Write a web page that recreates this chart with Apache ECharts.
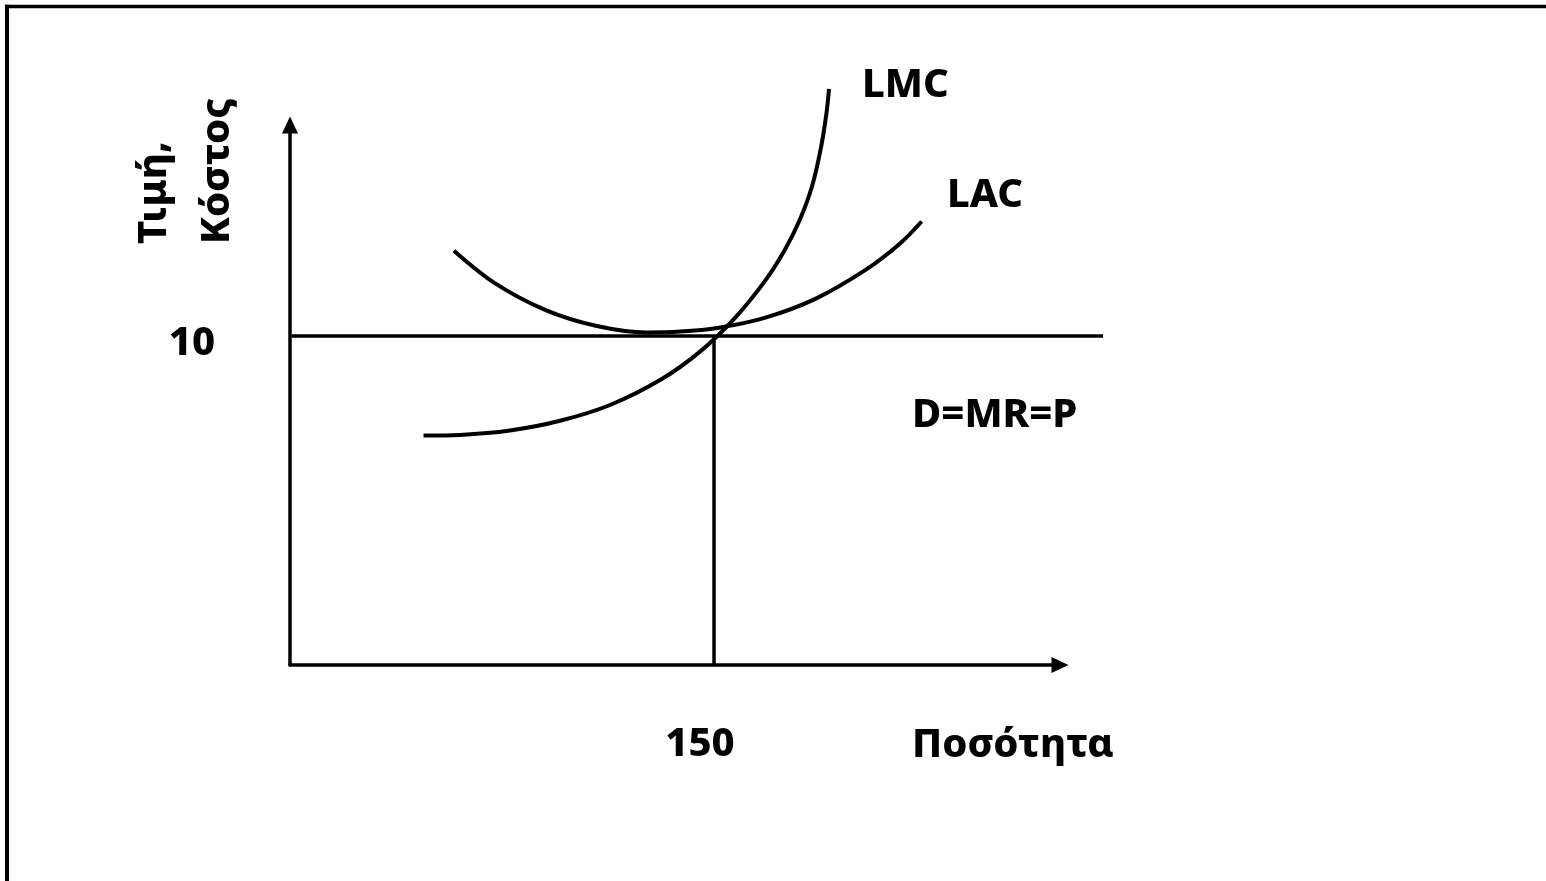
<!DOCTYPE html>
<html>
<head>
<meta charset="utf-8">
<script src="https://cdn.jsdelivr.net/npm/echarts@6/dist/echarts.min.js"></script>
<style>
html,body{margin:0;padding:0;background:#fff;}
#chart{width:1546px;height:881px;}
</style>
</head>
<body>
<div id="chart"></div>
<script>
// Quantity / cost values
const lmcQ    = [47.23, 60.14, 77.83, 95.52, 113.21, 130.90, 145.05, 157.43, 168.04, 175.12, 180.42, 184.67, 187.85, 189.80, 190.68];
const lmcCost = [6.974, 6.992, 7.126, 7.421, 7.901, 8.658, 9.524, 10.551, 11.675, 12.630, 13.544, 14.547, 15.732, 16.786, 17.510];
const lacQ    = [57.98, 72.31, 90.25, 108.15, 126.08, 138.04, 151.17, 167.90, 185.84, 203.74, 215.70, 223.45];
const lacCost = [12.590, 11.612, 10.791, 10.308, 10.104, 10.132, 10.241, 10.548, 11.125, 12.013, 12.800, 13.477];
const priceQ    = [0, 287.6];
const priceCost = [10, 10];
const eqQ    = [150, 150];
const eqCost = [0, 10];
const xTicks = [150];
const yTicks = [10];
const xAxisMax = 272.4;   // where the quantity axis arrow ends
const xPlotMax = 287.6;   // end of the price line
const yMax = 16.41;

const zip = (a, b) => a.map((v, i) => [v, b[i]]);
const FONT = '"Noto Sans", "Open Sans", sans-serif';
const FS = 40;
const FW = 800;
const txt = (text, x, y) => ({
  type: 'text', x: x, y: y,
  style: { text: text, fill: '#000', font: FW + ' ' + FS + 'px ' + FONT, align: 'left', verticalAlign: 'middle' }
});

const chart = echarts.init(document.getElementById('chart'), null, { renderer: 'canvas' });
const lineSeries = (data, w) => ({
  type: 'line', data: data, smooth: 0.33, showSymbol: false, clip: false, silent: true,
  xAxisIndex: 0, yAxisIndex: 0,
  lineStyle: { color: '#000', width: w }, emphasis: { disabled: true }
});
const arrowLine = { show: true, onZero: false, symbol: ['none', 'triangle'], symbolSize: [16, 17], lineStyle: { color: '#000', width: 3.5 } };

chart.setOption({
  animation: false,
  backgroundColor: '#fff',
  grid: [
    { left: 290, top: 125, width: 813, height: 540, containLabel: false, outerBoundsMode: 'none' },
    { left: 290, top: 125, width: 770, height: 540, containLabel: false, outerBoundsMode: 'none' }
  ],
  xAxis: [
    { type: 'value', gridIndex: 0, min: 0, max: xPlotMax, show: false },
    {
      type: 'value', gridIndex: 1, min: 0, max: xAxisMax,
      splitLine: { show: false }, axisTick: { show: false }, axisLine: arrowLine,
      axisLabel: { customValues: xTicks, margin: 60, color: '#000', fontFamily: FONT, fontWeight: FW, fontSize: FS, padding: [0, 28, 0, 0] }
    }
  ],
  yAxis: [
    { type: 'value', gridIndex: 0, min: 0, max: yMax, show: false },
    {
      type: 'value', gridIndex: 1, min: 0, max: yMax,
      splitLine: { show: false }, axisTick: { show: false }, axisLine: arrowLine,
      axisLabel: { customValues: yTicks, margin: 75, color: '#000', fontFamily: FONT, fontWeight: FW, fontSize: FS, verticalAlign: 'top', lineHeight: 15 }
    }
  ],
  series: [
    lineSeries(zip(priceQ, priceCost), 3.5),
    lineSeries(zip(eqQ, eqCost), 3.5),
    lineSeries(zip(lmcQ, lmcCost), 4),
    lineSeries(zip(lacQ, lacCost), 4)
  ],
  graphic: [
    { type: 'line', shape: { x1: 5, y1: 6.5, x2: 1546, y2: 6.5 }, style: { stroke: '#000', lineWidth: 3.5 } },
    { type: 'line', shape: { x1: 7, y1: 4.8, x2: 7, y2: 881 }, style: { stroke: '#000', lineWidth: 4 } },
    txt('LMC', 862, 85.5),
    txt('LAC', 947, 195.5),
    txt('D=MR=P', 912, 415.5),
    txt('Ποσότητα', 912, 745.5),
    { type: 'text', x: 123, y: 244, rotation: Math.PI / 2,
      style: { text: 'Τιμή,\nΚόστος', fill: '#000', font: FW + ' ' + FS + 'px ' + FONT, align: 'left', verticalAlign: 'top', lineHeight: 63 } }
  ]
});
</script>
</body>
</html>
